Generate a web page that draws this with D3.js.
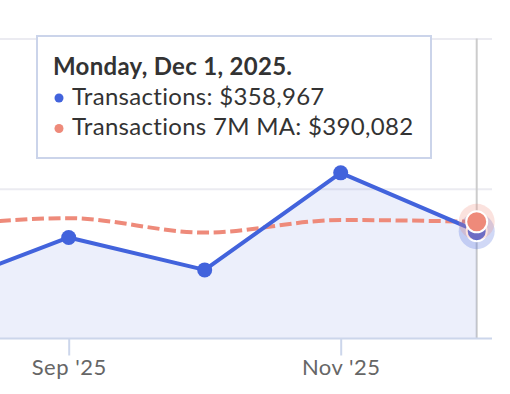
<!DOCTYPE html>
<html>
<head>
<meta charset="utf-8">
<script src="https://cdn.jsdelivr.net/npm/d3@7"></script>
<style>
	body { margin: 0; background: #fff; }
	svg { display: block; font-family: Lato, "Open Sans", sans-serif; }
</style>
</head>
<body>
<div id="chart"></div>
<script>
var months = ["Aug '25", "Sep '25", "Oct '25", "Nov '25", "Dec '25"];
var transactions = [165000, 338000, 230000, 553000, 358967];
var movingAvg = [372000, 402000, 354000, 396000, 390082];
var yTicks = [500000, 1000000];
var xTickLabels = ["Sep '25", "Nov '25"];
var hoverDate = new Date(2025, 11, 1);

function init() {
	var w = 510;
	var h = 394;
	var plotTop = 38.5;
	var plotBottom = 339;
	var plotRight = 492;
	var hover = 4;

	var blue = "#4263dc";
	var red = "#ee8a7a";

	var svg = d3.select("#chart")
		.append("svg")
		.attr("width", w)
		.attr("height", h);

	var xScale = d3.scalePoint()
		.domain(months)
		.range([-67.3, 476.7]);

	var yScale = d3.scaleLinear()
		.domain([0, 1000000])
		.range([plotBottom, plotTop]);

	// grid lines
	var grid = svg.append("g")
		.call(d3.axisLeft(yScale).tickValues(yTicks).tickSize(-plotRight).tickFormat(""));
	grid.select(".domain").remove();
	grid.selectAll("line")
		.attr("stroke", "#ebebf1")
		.attr("stroke-width", 2);

	// crosshair
	svg.append("line")
		.attr("x1", xScale(months[hover]))
		.attr("x2", xScale(months[hover]))
		.attr("y1", plotTop)
		.attr("y2", plotBottom)
		.attr("stroke", "#cccccc")
		.attr("stroke-width", 2);

	var area = d3.area()
		.x(function(d, i) { return xScale(months[i]); })
		.y0(plotBottom)
		.y1(function(d) { return yScale(d); });

	svg.append("path")
		.datum(transactions)
		.attr("d", area)
		.attr("fill", blue)
		.attr("fill-opacity", 0.1);

	// x axis
	var xAxis = svg.append("g")
		.attr("transform", "translate(0," + (plotBottom - 0.5) + ")")
		.call(d3.axisBottom(xScale).tickValues(xTickLabels).tickSize(17).tickPadding(4).tickSizeOuter(0));
	xAxis.select(".domain")
		.attr("d", "M0,0H" + plotRight)
		.attr("stroke", "#ccd6eb")
		.attr("stroke-width", 2);
	xAxis.selectAll(".tick line")
		.attr("stroke", "#ccd6eb")
		.attr("stroke-width", 2);
	xAxis.selectAll(".tick text")
		.attr("fill", "#666666")
		.style("font-size", "22px")
		.style("letter-spacing", "0.5px")
		.style("font-family", "Lato, sans-serif");

	var line = d3.line()
		.x(function(d, i) { return xScale(months[i]); })
		.y(function(d) { return yScale(d); });

	var maLine = d3.line()
		.curve(d3.curveMonotoneX)
		.x(function(d, i) { return xScale(months[i]); })
		.y(function(d) { return yScale(d); });

	svg.append("path")
		.datum(movingAvg)
		.attr("d", maLine)
		.attr("fill", "none")
		.attr("stroke", red)
		.attr("stroke-width", 4)
		.attr("stroke-dasharray", "12,4.6");

	svg.append("path")
		.datum(transactions)
		.attr("d", line)
		.attr("fill", "none")
		.attr("stroke", blue)
		.attr("stroke-width", 4)
		.attr("stroke-linejoin", "round");

	svg.selectAll("circle.pt")
		.data(transactions.slice(0, hover))
		.enter()
		.append("circle")
		.attr("class", "pt")
		.attr("cx", function(d, i) { return xScale(months[i]); })
		.attr("cy", function(d) { return yScale(d); })
		.attr("r", 7.5)
		.attr("fill", blue);

	// hover markers
	var hx = xScale(months[hover]);
	svg.append("circle")
		.attr("cx", hx).attr("cy", yScale(transactions[hover]))
		.attr("r", 18).attr("fill", blue).attr("fill-opacity", 0.25);
	svg.append("circle")
		.attr("cx", hx).attr("cy", yScale(transactions[hover]))
		.attr("r", 10).attr("fill", blue)
		.attr("stroke", "#fff").attr("stroke-width", 2);
	svg.append("circle")
		.attr("cx", hx).attr("cy", yScale(movingAvg[hover]))
		.attr("r", 18).attr("fill", red).attr("fill-opacity", 0.25);
	svg.append("circle")
		.attr("cx", hx).attr("cy", yScale(movingAvg[hover]))
		.attr("r", 10.5).attr("fill", red)
		.attr("stroke", "#fff").attr("stroke-width", 2);

	// tooltip
	var fmt = d3.format("$,");
	var tip = svg.append("g");
	tip.append("rect")
		.attr("x", 37)
		.attr("y", 36)
		.attr("width", 394)
		.attr("height", 122)
		.attr("fill", "#fff")
		.attr("fill-opacity", 0.92)
		.attr("stroke", "#cbd4ea")
		.attr("stroke-width", 2);
	tip.append("text")
		.attr("x", 53)
		.attr("y", 75)
		.attr("fill", "#333")
		.style("font-size", "24px")
		.style("letter-spacing", "0.3px")
		.style("font-weight", "bold")
		.text(d3.timeFormat("%A, %b %-d, %Y.")(hoverDate));

	var rows = [
		{ color: blue, label: "Transactions: " + fmt(transactions[hover]) },
		{ color: red, label: "Transactions 7M MA: " + fmt(movingAvg[hover]) }
	];
	rows.forEach(function(r, i) {
		tip.append("circle")
			.attr("cx", 59)
			.attr("cy", 98 + i * 30.5)
			.attr("r", 4.5)
			.attr("fill", r.color);
		tip.append("text")
			.attr("x", 72)
			.attr("y", 104.5 + i * 30.5)
			.attr("fill", "#333")
			.style("font-size", "24px")
			.style("letter-spacing", "0.3px")
			.text(r.label);
	});
}

window.onload = init;
</script>
</body>
</html>
